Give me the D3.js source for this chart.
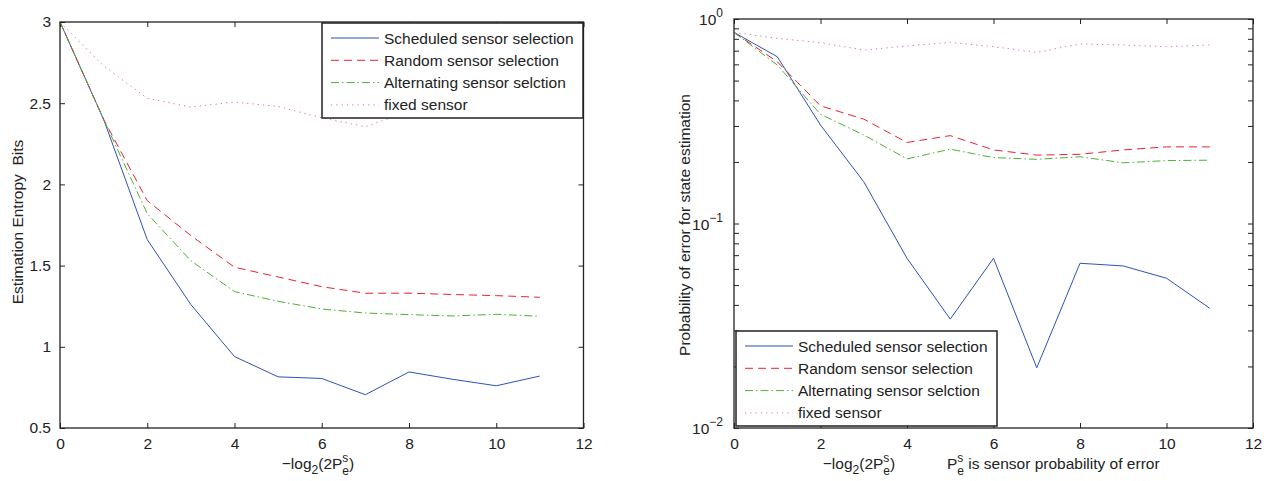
<!DOCTYPE html>
<html>
<head>
<meta charset="utf-8">
<script src="https://cdn.jsdelivr.net/npm/d3@7"></script>
<style>
body { margin: 0; background: #fff; }
text { font-family: "Liberation Sans", Arial, sans-serif; fill: #222; white-space: pre; }
.axis path { display: none; }
.axis line { stroke: #222; }
</style>
</head>
<body>
<svg id="chart" width="1278" height="481"></svg>
<script>
// x values (-log2(2Pe))
let steps = [0, 1, 2, 3, 4, 5, 6, 7, 8, 9, 10, 11];

// left plot: estimation entropy in bits
let entScheduled = [3, 2.4, 1.66, 1.26, 0.94, 0.815, 0.805, 0.705, 0.845, 0.80, 0.76, 0.82];
let entRandom = [3, 2.4, 1.9, 1.685, 1.49, 1.43, 1.37, 1.33, 1.33, 1.322, 1.315, 1.305];
let entAlternating = [3, 2.4, 1.82, 1.53, 1.34, 1.28, 1.233, 1.208, 1.198, 1.19, 1.2, 1.188];
let entFixed = [3, 2.73, 2.53, 2.476, 2.507, 2.48, 2.41, 2.355, 2.45, 2.5, 2.5, 2.5];

// right plot: probability of error for state estimation
let pScheduled = [0.86, 0.654, 0.303, 0.16, 0.0676, 0.0341, 0.0676, 0.0197, 0.0639, 0.062, 0.054, 0.0385];
let pRandom = [0.86, 0.618, 0.376, 0.324, 0.249, 0.269, 0.229, 0.216, 0.218, 0.229, 0.237, 0.237];
let pAlternating = [0.86, 0.596, 0.342, 0.271, 0.207, 0.231, 0.21, 0.206, 0.212, 0.198, 0.203, 0.204];
let pFixed = [0.86, 0.804, 0.766, 0.705, 0.738, 0.769, 0.732, 0.687, 0.755, 0.746, 0.732, 0.746];

let legendLabels = ["Scheduled sensor selection", "Random sensor selection", "Alternating sensor selction", "fixed sensor"];
let xTicks = [0, 2, 4, 6, 8, 10, 12];
let entTicks = [0.5, 1, 1.5, 2, 2.5, 3];
let logMajor = [0.01, 0.1, 1];
let logExp = ["\u22122", "\u22121", "0"];

let styles = [
	{color: "#2f52b8", dash: null},
	{color: "#e8232b", dash: "8,5"},
	{color: "#4db035", dash: "8,3,1.5,3"},
	{color: "#d874c8", dash: "1.3,4"}
];

let fs = "15.5px";
let fsSmall = "12px";

let svg = d3.select("#chart");

function drawXLabel(g, cx, y)
{
	let t = g.append("text").attr("x", cx).attr("y", y).attr("text-anchor", "middle").style("font-size", fs);
	t.append("tspan").text("\u2212log");
	t.append("tspan").text("2").attr("dy", 5).style("font-size", fsSmall);
	t.append("tspan").text("(2P").attr("dy", -5);
	t.append("tspan").text("s").attr("dy", -7).style("font-size", fsSmall);
	t.append("tspan").text("e").attr("dx", -6).attr("dy", 13).style("font-size", fsSmall);
	t.append("tspan").text(")").attr("dy", -6);
	return t;
}

function drawPanel(opt)
{
	let x = d3.scaleLinear().domain([0, 12]).range([opt.left, opt.right]);
	let y = opt.y;
	let g = svg.append("g");

	// ticks on all four sides, pointing inward
	g.append("g").attr("class", "axis").attr("transform", "translate(0," + opt.bottom + ")")
		.call(d3.axisBottom(x).tickValues(xTicks).tickSize(-5).tickPadding(10).tickFormat(d3.format("d")))
		.selectAll("text").style("font-size", fs).style("fill", "#222");
	g.append("g").attr("class", "axis").attr("transform", "translate(0," + opt.top + ")")
		.call(d3.axisTop(x).tickValues(xTicks).tickSize(-5).tickFormat(""));

	let yl = g.append("g").attr("class", "axis").attr("transform", "translate(" + opt.left + ",0)")
		.call(d3.axisLeft(y).tickValues(opt.yTicks).tickSize(-5).tickPadding(9).tickFormat(opt.yFormat));
	yl.selectAll("text").style("font-size", fs).style("fill", "#222");
	g.append("g").attr("class", "axis").attr("transform", "translate(" + opt.right + ",0)")
		.call(d3.axisRight(y).tickValues(opt.yTicks).tickSize(-5).tickFormat(""));

	let line = d3.line().x(function(d, i) { return x(steps[i]); }).y(function(d) { return y(d); });

	opt.series.forEach(function(s, i) {
		g.append("path").attr("d", line(s)).attr("fill", "none")
			.attr("stroke", styles[i].color).attr("stroke-width", 1)
			.attr("stroke-dasharray", styles[i].dash);
	});

	g.append("rect").attr("x", opt.left).attr("y", opt.top)
		.attr("width", opt.right - opt.left).attr("height", opt.bottom - opt.top)
		.attr("fill", "none").attr("stroke", "#222").attr("stroke-width", 1.3);

	// legend
	let lg = g.append("g").attr("transform", "translate(" + opt.legend[0] + "," + opt.legend[1] + ")");
	lg.append("rect").attr("width", 261).attr("height", 95).attr("fill", "#fff")
		.attr("stroke", "#222").attr("stroke-width", 1.5);
	legendLabels.forEach(function(label, i) {
		let ry = 15 + i * 22.3;
		lg.append("line").attr("x1", 9).attr("x2", 57).attr("y1", ry).attr("y2", ry)
			.attr("stroke", styles[i].color).attr("stroke-width", 1)
			.attr("stroke-dasharray", styles[i].dash);
		lg.append("text").attr("x", 62).attr("y", ry + 5.5).text(label).style("font-size", fs);
	});

	return {x: x, g: g};
}

// left panel
let yEnt = d3.scaleLinear().domain([0.5, 3]).range([428, 22]);
let left = drawPanel({
	left: 60, right: 583.5, top: 22, bottom: 428,
	y: yEnt, yTicks: entTicks, yFormat: function(d) { return String(d); },
	series: [entScheduled, entRandom, entAlternating, entFixed],
	legend: [322, 23]
});
left.g.append("text").attr("transform", "translate(23,222) rotate(-90)")
	.attr("text-anchor", "middle").style("font-size", fs).text("Estimation Entropy  Bits");
drawXLabel(left.g, 318, 469);

// right panel (log scale)
let yProb = d3.scaleLog().domain([0.01, 1]).range([428, 19]);
let logTicks = [];
[0.01, 0.1].forEach(function(b) { for (let k = 1; k < 10; k++) logTicks.push(b * k); });
logTicks.push(1);
let right = drawPanel({
	left: 734, right: 1253, top: 19, bottom: 428,
	y: yProb, yTicks: logTicks, yFormat: function() { return ""; },
	series: [pScheduled, pRandom, pAlternating, pFixed],
	legend: [736, 331]
});
logMajor.forEach(function(v, i) {
	let t = right.g.append("text").attr("x", 723).attr("y", yProb(v) + 6)
		.attr("text-anchor", "end").style("font-size", fs);
	t.append("tspan").text("10");
	t.append("tspan").text(logExp[i]).attr("dy", -8).style("font-size", fsSmall);
});
right.g.append("text").attr("transform", "translate(690,225) rotate(-90)")
	.attr("text-anchor", "middle").style("font-size", fs).text("Probability of error for state estimation");
drawXLabel(right.g, 859, 469);
let note = right.g.append("text").attr("x", 947).attr("y", 469).style("font-size", fs);
note.append("tspan").text("P");
note.append("tspan").text("s").attr("dy", -7).style("font-size", fsSmall);
note.append("tspan").text("e").attr("dx", -6).attr("dy", 13).style("font-size", fsSmall);
note.append("tspan").text(" is sensor probability of error").attr("dy", -6);
</script>
</body>
</html>
